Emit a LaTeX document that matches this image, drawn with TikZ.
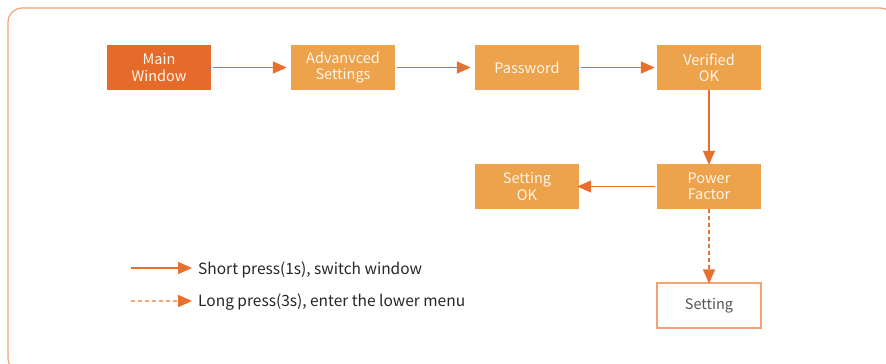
\documentclass[tikz,border=0pt]{standalone}
\usepackage{fontspec}
\setmainfont{Noto Sans CJK SC}
\usetikzlibrary{arrows.meta}
\definecolor{dark}{HTML}{E66B2B}
\definecolor{light}{HTML}{EDA24C}
\definecolor{lineor}{HTML}{E8702E}
\definecolor{frameor}{HTML}{F2A273}
\definecolor{dashor}{HTML}{F4A57A}
\definecolor{txtw}{HTML}{FFF6EA}
\definecolor{txtg}{HTML}{555555}
\tikzset{
  box/.style={minimum width=104pt,minimum height=45pt,inner sep=0pt,align=center,
    font=\fontsize{14.5}{16.5}\selectfont,text=txtw},
  darkbox/.style={box,fill=dark},
  lightbox/.style={box,fill=light},
  whitebox/.style={box,fill=white,draw=frameor,line width=1.2pt,text=txtg},
  conn/.style={draw=lineor,line width=1.5pt,-{Triangle[length=14pt,width=12pt,fill=lineor]}},
  dconn/.style={conn,dash pattern=on 4pt off 3pt},
  legdash/.style={draw=dashor,line width=1.5pt,dash pattern=on 4pt off 3pt,-{Triangle[length=14pt,width=12pt,fill=lineor,color=lineor]}},
  legtxt/.style={anchor=west,inner sep=0pt,font=\fontsize{15.5}{18}\selectfont,text=black!85}
}
\begin{document}
\begin{tikzpicture}[x=1pt,y=-1pt]
\useasboundingbox (0,0) rectangle (886,364);
\clip (0,0) rectangle (886,364);
\draw[frameor,line width=1.2pt,rounded corners=14pt] (8,8) rectangle (894,372);
\node[darkbox] (main) at (159,67.5) {Main\\Window};
\node[lightbox] (adv) at (343,67.5) {Advanvced\\Settings};
\node[lightbox] (pw) at (527,67.5) {Password};
\node[lightbox] (ver) at (709,67.5) {Verified\\OK};
\node[lightbox] (pf) at (709,186.5) {Power\\Factor};
\node[lightbox] (sok) at (527,186.5) {Setting\\OK};
\node[whitebox] (set) at (709,305.5) {Setting};
\draw[conn] ([xshift=2pt]main.east) -- ([xshift=-4pt]adv.west);
\draw[conn] ([xshift=2pt]adv.east) -- ([xshift=-4pt]pw.west);
\draw[conn] ([xshift=2pt]pw.east) -- ([xshift=-2pt]ver.west);
\draw[conn] (ver.south) -- ([yshift=-1pt]pf.north);
\draw[conn] ([xshift=-2pt]pf.west) -- ([xshift=-2pt]sok.east);
\draw[dconn] (pf.south) -- ([yshift=-1pt]set.north);
\coordinate (l1a) at (131,268);
\coordinate (l1b) at (192,268);
\coordinate (l2a) at (131,301);
\coordinate (l2b) at (192,301);
\draw[conn] (l1a) -- (l1b);
\draw[legdash] (l2a) -- (l2b);
\node[legtxt] (t1) at (198,270) {Short press(1s), switch window};
\node[legtxt] (t2) at (198,302.5) {Long press(3s), enter the lower menu};
\end{tikzpicture}
\end{document}
